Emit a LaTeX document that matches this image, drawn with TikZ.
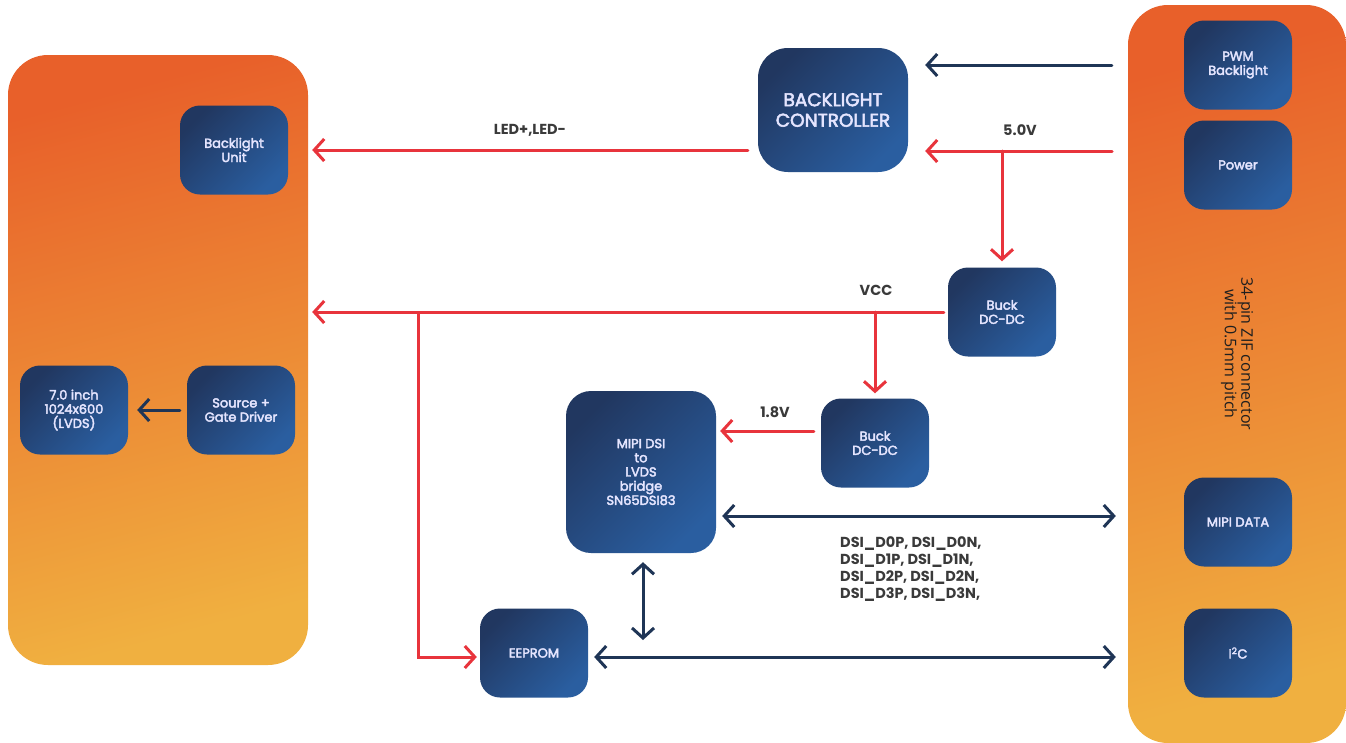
\documentclass[tikz,border=0pt]{standalone}
\usepackage{fontspec}
\setmainfont{Poppins}
\newfontfamily\semib[FakeBold=3]{Poppins}
\newfontfamily\opensans{Open Sans}
\usetikzlibrary{arrows.meta}
\definecolor{myred}{HTML}{E8343C}
\definecolor{navy}{HTML}{1F3556}
\definecolor{blkA}{HTML}{213760}
\definecolor{blkB}{HTML}{2A5EA0}
\definecolor{orA}{HTML}{E8602A}
\definecolor{orB}{HTML}{F0B040}
\definecolor{lbl}{HTML}{3A3A3A}
\tikzset{
  panel/.style={shade, top color=orA, bottom color=orB, shading angle=15, rounded corners=40pt, inner sep=0pt},
  blk/.style={shade, top color=blkA, bottom color=blkB, shading angle=45, rounded corners=20pt,
    text=white!90!blue, align=center, inner sep=0pt, minimum width=108pt, minimum height=89pt,
    font=\semib\fontsize{13}{14.2}\selectfont},
  lab/.style={text=lbl, font=\bfseries\fontsize{14.5}{17}\selectfont, inner sep=0pt},
  redln/.style={draw=myred, line width=3pt, line cap=round},
  navyln/.style={draw=navy, line width=3pt, line cap=round},
  arr/.style={-{Straight Barb[length=10pt,width=22pt]}},
  darr/.style={{Straight Barb[length=10pt,width=22pt]}-{Straight Barb[length=10pt,width=22pt]}}
}
\begin{document}
\begin{tikzpicture}[x=1pt,y=-1pt]
\useasboundingbox[fill=white] (0,0) rectangle (1346,742);
% panels
\node[panel, minimum width=300pt, minimum height=610pt] (lp) at (158,360) {};
\node[panel, minimum width=218pt, minimum height=738pt] (rp) at (1237,374) {};
\node[rotate=-90, text=black!88, align=center, font=\opensans\fontsize{16}{16.5}\selectfont] (zif) at (1237,354) {34-pin ZIF connector\\with 0.5mm pitch};
% blocks
\node[blk] (bu) at (234,150) {Backlight\\Unit};
\node[blk] (disp) at (74,410) {7.0 inch\\1024x600\\(LVDS)};
\node[blk] (src) at (241,410) {Source +\\Gate Driver};
\node[blk, minimum width=150pt, minimum height=124pt, rounded corners=30pt, font=\semib\fontsize{18.5}{20.5}\selectfont] (blc) at (833,110) {BACKLIGHT\\CONTROLLER};
\node[blk] (bk1) at (1002,312) {Buck\\DC-DC};
\node[blk] (bk2) at (875,443) {Buck\\DC-DC};
\node[blk, minimum width=150pt, minimum height=162pt, rounded corners=25pt] (br) at (641,472) {MIPI DSI\\to\\LVDS\\bridge\\SN65DSI83};
\node[blk] (ee) at (534,653) {EEPROM};
\node[blk] (pwm) at (1238,65) {PWM\\Backlight};
\node[blk] (pow) at (1238,165) {Power};
\node[blk] (mipi) at (1238,522) {MIPI DATA};
\node[blk] (i2c) at (1238,653) {I\textsuperscript{2}C};
% coordinates
\coordinate (p50) at (1112,151);
\coordinate (vb) at (418,313);
\coordinate (busj) at (643,657);
% connectors
\draw[navyln, arr, shorten <=72pt, shorten >=17pt] (pwm.west) -- (pwm.west -| blc.east);
\draw[redln, arr, shorten >=17pt] (p50) -- (p50 -| blc.east);
\draw[redln, arr, shorten >=6pt] (bk1.north |- p50) -- (bk1.north);
\draw[redln, arr, shorten <=10pt, shorten >=4pt] (bu.east -| blc.west) -- (bu.east -| lp.east);
\draw[redln, arr, shorten <=4pt, shorten >=4pt] (bk1.west) -- (bk1.west -| lp.east);
\draw[redln, arr, shorten >=5pt] (bk2.north |- bk1.west) -- (bk2.north);
\draw[redln, arr, shorten >=3pt] (vb) |- ([yshift=-4pt]ee.west);
\draw[redln, arr, shorten <=7pt, shorten >=4pt] ([yshift=12pt]bk2.west) -- ([yshift=12pt]bk2.west -| br.east);
\draw[navyln, darr, shorten <=6pt, shorten >=68pt] ([yshift=6pt]br.east |- mipi.west) -- ([yshift=6pt]mipi.west);
\draw[navyln, darr, shorten <=9pt, shorten >=17pt] (br.south -| busj) -- (busj);
\draw[navyln, darr, shorten <=6pt, shorten >=68pt] ([yshift=-4pt]ee.east) -- ([yshift=-4pt]ee.east -| i2c.west);
\draw[navyln, arr, shorten <=7pt, shorten >=9pt] (src.west) -- (disp.east);
% labels
\node[lab] (l1) at (530,130) {LED+,LED-};
\node[lab] (l2) at (1020,130) {5.0V};
\node[lab] (l3) at (876,290) {VCC};
\node[lab] (l4) at (775,412) {1.8V};
\node[lab, align=left, anchor=north west] (dsi) at (840,536) {DSI\_D0P, DSI\_D0N,\\DSI\_D1P, DSI\_D1N,\\DSI\_D2P, DSI\_D2N,\\DSI\_D3P, DSI\_D3N,};
\end{tikzpicture}
\end{document}
